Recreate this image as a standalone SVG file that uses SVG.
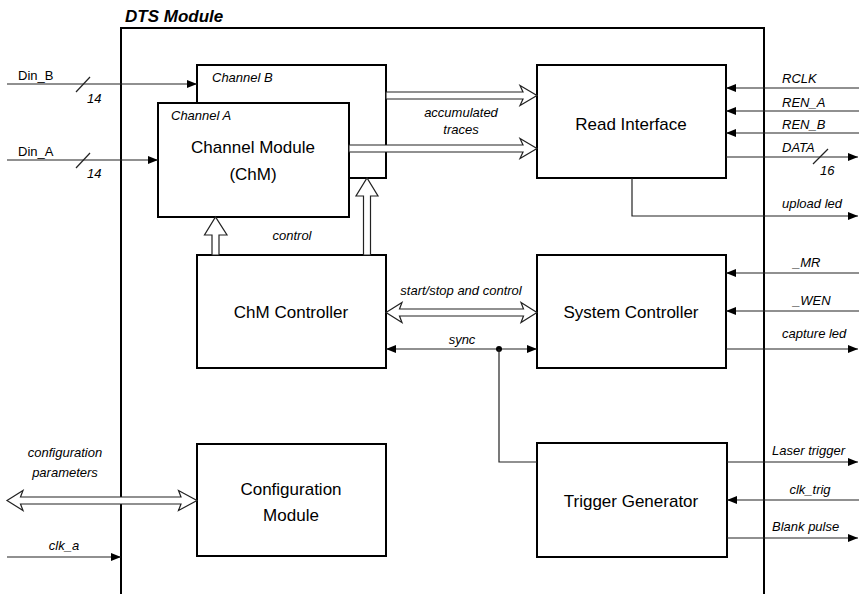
<svg xmlns="http://www.w3.org/2000/svg" width="859" height="594" viewBox="0 0 859 594">
  <style>
    .box { fill: #fff; stroke: #000; stroke-width: 2; }
    .frame { fill: none; stroke: #000; stroke-width: 2; }
    .wire { fill: none; stroke: #222; stroke-width: 1.2; }
    .bus { fill: #fff; stroke: #222; stroke-width: 1.2; stroke-linejoin: miter; }
    .title { font-family: "Liberation Sans", Arial, sans-serif; font-size: 17px; font-weight: bold; font-style: italic; }
    .name { font-family: "Liberation Sans", Arial, sans-serif; font-size: 17px; text-anchor: middle; }
    .lbl { font-family: "Liberation Sans", Arial, sans-serif; font-size: 13px; font-style: italic; }
    .sig { font-family: "Liberation Sans", Arial, sans-serif; font-size: 13px; }
    .mid { text-anchor: middle; }
  </style>
  <defs>
    <marker id="arr" markerWidth="10" markerHeight="8" refX="10" refY="4" orient="auto-start-reverse" markerUnits="userSpaceOnUse">
      <path d="M0,0 L10,4 L0,8 z" fill="#000"/>
    </marker>
  </defs>

  <rect width="859" height="594" fill="#fff"/>

  <!-- enclosing module frame (open at the bottom) -->
  <g id="dts-module">
    <path class="frame" d="M121,594 V28 H764 V594"/>
    <text class="title" x="125" y="22">DTS Module</text>
  </g>

  <g id="channel-b">
    <rect class="box" x="197" y="65" width="189" height="113"/>
    <text class="lbl" x="212" y="82">Channel B</text>
  </g>

  <g id="channel-a">
    <rect class="box" x="158" y="103" width="191" height="114"/>
    <text class="lbl" x="171" y="120">Channel A</text>
    <text class="name" x="253" y="153">Channel Module</text>
    <text class="name" x="253" y="180">(ChM)</text>
  </g>

  <g id="read-interface">
    <rect class="box" x="537" y="65" width="189" height="113"/>
    <text class="name" x="631" y="130">Read Interface</text>
  </g>

  <g id="chm-controller">
    <rect class="box" x="197" y="255" width="189" height="113"/>
    <text class="name" x="291" y="318">ChM Controller</text>
  </g>

  <g id="system-controller">
    <rect class="box" x="537" y="255" width="189" height="113"/>
    <text class="name" x="631" y="318">System Controller</text>
  </g>

  <g id="configuration-module">
    <rect class="box" x="197" y="444" width="189" height="112"/>
    <text class="name" x="291" y="495">Configuration</text>
    <text class="name" x="291" y="521">Module</text>
  </g>

  <g id="trigger-generator">
    <rect class="box" x="537" y="443" width="190" height="114"/>
    <text class="name" x="631" y="507">Trigger Generator</text>
  </g>

  <g id="connectors">
    <!-- data inputs -->
    <line class="wire" x1="7" y1="84" x2="197" y2="84" marker-end="url(#arr)"/>
    <line class="wire" x1="76" y1="92" x2="90" y2="77"/>
    <text class="sig" x="18" y="80">Din_B</text>
    <text class="lbl" x="87" y="103">14</text>

    <line class="wire" x1="7" y1="160" x2="158" y2="160" marker-end="url(#arr)"/>
    <line class="wire" x1="76" y1="168" x2="90" y2="153"/>
    <text class="sig" x="18" y="156">Din_A</text>
    <text class="lbl" x="87" y="178">14</text>

    <!-- accumulated traces buses -->
    <polygon class="bus" points="386,92 523,92 520,85.5 537,95.5 520,105.5 523,99 386,99"/>
    <polygon class="bus" points="349,145 523,145 520,138.5 537,148.5 520,158.5 523,152 349,152"/>
    <text class="lbl mid" x="461" y="117">accumulated</text>
    <text class="lbl mid" x="461" y="134">traces</text>

    <!-- control buses from ChM Controller -->
    <polygon class="bus" points="212,255 212,235 204.5,235 215.5,217 227,235 219,235 219,255"/>
    <polygon class="bus" points="363.5,255 363.5,196 356,196 367,178 378,196 370.5,196 370.5,255"/>
    <text class="lbl mid" x="292" y="240">control</text>

    <!-- start/stop and control bus -->
    <polygon class="bus" points="386,312.5 402,302.5 399.5,309 523.5,309 521,302.5 537,312.5 521,322.5 523.5,316 399.5,316 402,322.5"/>
    <text class="lbl mid" x="461" y="295">start/stop and control</text>

    <!-- sync -->
    <line class="wire" x1="386" y1="349" x2="537" y2="349" marker-start="url(#arr)" marker-end="url(#arr)"/>
    <circle cx="499" cy="349" r="3" fill="#000"/>
    <polyline class="wire" points="499,349 499,462 537,462"/>
    <text class="lbl mid" x="462" y="344">sync</text>

    <!-- configuration parameters -->
    <polygon class="bus" points="7,500.5 23,490.5 20.5,497 181,497 178.5,490.5 197,500.5 178.5,510.5 181,504 20.5,504 23,510.5"/>
    <text class="lbl mid" x="65" y="457">configuration</text>
    <text class="lbl mid" x="65" y="477">parameters</text>

    <line class="wire" x1="7" y1="557" x2="121" y2="557" marker-end="url(#arr)"/>
    <text class="lbl mid" x="64" y="550">clk_a</text>

    <!-- read interface pins -->
    <line class="wire" x1="859" y1="88" x2="726" y2="88" marker-end="url(#arr)"/>
    <text class="lbl" x="782" y="83">RCLK</text>
    <line class="wire" x1="859" y1="111" x2="726" y2="111" marker-end="url(#arr)"/>
    <text class="lbl" x="782" y="107">REN_A</text>
    <line class="wire" x1="859" y1="133" x2="726" y2="133" marker-end="url(#arr)"/>
    <text class="lbl" x="782" y="129">REN_B</text>
    <line class="wire" x1="726" y1="157" x2="858" y2="157" marker-end="url(#arr)"/>
    <line class="wire" x1="813" y1="164" x2="828" y2="149"/>
    <text class="lbl" x="782" y="152">DATA</text>
    <text class="lbl" x="820" y="175">16</text>

    <polyline class="wire" points="632,178 632,216 858,216" marker-end="url(#arr)"/>
    <text class="lbl" x="782" y="208">upload led</text>

    <!-- system controller pins -->
    <line class="wire" x1="859" y1="273" x2="726" y2="273" marker-end="url(#arr)"/>
    <text class="lbl" x="793" y="267">_MR</text>
    <line class="wire" x1="859" y1="311" x2="726" y2="311" marker-end="url(#arr)"/>
    <text class="lbl" x="793" y="305">_WEN</text>
    <line class="wire" x1="726" y1="349" x2="858" y2="349" marker-end="url(#arr)"/>
    <text class="lbl" x="782" y="338">capture led</text>

    <!-- trigger generator pins -->
    <line class="wire" x1="727" y1="462" x2="858" y2="462" marker-end="url(#arr)"/>
    <text class="lbl" x="772" y="455">Laser trigger</text>
    <line class="wire" x1="859" y1="500" x2="727" y2="500" marker-end="url(#arr)"/>
    <text class="lbl mid" x="810" y="494">clk_trig</text>
    <line class="wire" x1="727" y1="538" x2="858" y2="538" marker-end="url(#arr)"/>
    <text class="lbl" x="772" y="531">Blank pulse</text>
  </g>
</svg>
